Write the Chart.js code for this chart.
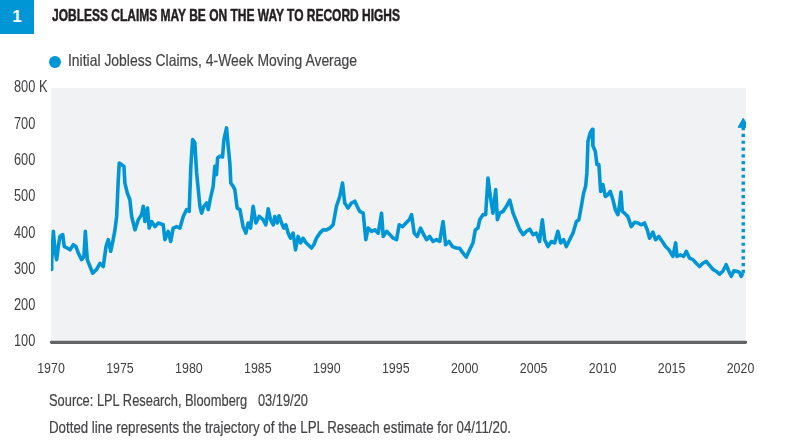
<!DOCTYPE html>
<html>
<head>
<meta charset="utf-8">
<script src="https://cdn.jsdelivr.net/npm/chart.js@4.4.1/dist/chart.umd.min.js"></script>
<style>
  html, body { margin: 0; padding: 0; background: #fff; }
  #wrap { position: relative; width: 788px; height: 448px; overflow: hidden;
    font-family: "Liberation Sans", Arial, sans-serif; }
  #c { position: absolute; left: 0; top: 0; }
  .abs { position: absolute; white-space: nowrap; }
  .sq { transform-origin: 0 50%; }
  #num { left: 0; top: 0; width: 34px; height: 34px; background: #0096d6; color: #fff;
    font-weight: bold; font-size: 17px; line-height: 34px; text-align: center; }
  #title { left: 52px; top: 6px; font-weight: bold; font-size: 16.5px; line-height: 18px; color: #231f20;
    -webkit-text-stroke: 0.5px #231f20; }
  #legdot { left: 49px; top: 56px; width: 12px; height: 12px; border-radius: 50%; background: #0096d6; }
  #legtxt { left: 68px; top: 51px; font-size: 16.5px; line-height: 18px; color: #454547; -webkit-text-stroke: 0.2px #454547; }
  #src { left: 49px; top: 391px; font-size: 16.5px; line-height: 18px; color: #454547; -webkit-text-stroke: 0.2px #454547; }
  #note { left: 49px; top: 418px; font-size: 16.5px; line-height: 18px; color: #454547; -webkit-text-stroke: 0.2px #454547; }
  #rule { position: absolute; height: 3px; background: #636466; display: none; }
</style>
</head>
<body>
<div id="wrap">
  <canvas id="c" width="788" height="448"></canvas>
  <div class="abs" id="num">1</div>
  <div class="abs sq" id="title" data-w="348">JOBLESS CLAIMS MAY BE ON THE WAY TO RECORD HIGHS</div>
  <div class="abs" id="legdot"></div>
  <div class="abs sq" id="legtxt" data-w="289">Initial Jobless Claims, 4-Week Moving Average</div>
  <div class="abs sq" id="src" data-w="259">Source: LPL Research, Bloomberg&nbsp;&nbsp;&nbsp;03/19/20</div>
  <div class="abs sq" id="note" data-w="462">Dotted line represents the trajectory of the LPL Reseach estimate for 04/11/20.</div>
  <div id="rule"></div>
</div>
<script>
// Time (decimal years) and 4-week moving average of initial jobless claims (thousands)
const years = [
  1970.00,1970.05,1970.17,1970.29,1970.41,1970.53,1970.65,1970.85,1970.96,1971.14,
  1971.38,1971.62,1971.81,1971.98,1972.22,1972.39,1972.49,1972.63,1972.83,1973.02,
  1973.31,1973.55,1973.79,1973.99,1974.15,1974.33,1974.51,1974.64,1974.76,1974.88,
  1974.95,1975.12,1975.29,1975.36,1975.53,1975.72,1975.85,1976.09,1976.33,1976.57,
  1976.69,1976.81,1977.00,1977.12,1977.29,1977.54,1977.78,1978.14,1978.26,1978.50,
  1978.68,1978.86,1979.11,1979.35,1979.59,1979.83,1980.02,1980.14,1980.27,1980.43,
  1980.56,1980.80,1980.92,1981.09,1981.28,1981.40,1981.57,1981.76,1981.88,1982.00,
  1982.08,1982.25,1982.44,1982.54,1982.73,1982.85,1982.97,1983.04,1983.21,1983.33,
  1983.50,1983.70,1983.93,1984.13,1984.30,1984.47,1984.66,1984.86,1985.10,1985.38,
  1985.58,1985.75,1985.92,1986.11,1986.23,1986.40,1986.54,1986.72,1986.88,1987.03,
  1987.20,1987.37,1987.56,1987.73,1987.92,1988.10,1988.28,1988.48,1988.65,1988.89,
  1989.06,1989.25,1989.49,1989.73,1989.98,1990.22,1990.46,1990.70,1990.94,1991.14,
  1991.30,1991.54,1991.79,1992.03,1992.20,1992.39,1992.64,1992.83,1993.00,1993.25,
  1993.49,1993.73,1993.97,1994.09,1994.34,1994.58,1994.82,1995.06,1995.25,1995.50,
  1995.74,1995.98,1996.15,1996.34,1996.56,1996.80,1997.03,1997.23,1997.46,1997.71,
  1997.95,1998.19,1998.43,1998.62,1998.86,1999.11,1999.40,1999.64,1999.88,2000.12,
  2000.36,2000.60,2000.77,2000.96,2001.09,2001.33,2001.52,2001.69,2001.86,2002.05,
  2002.25,2002.37,2002.54,2002.78,2003.03,2003.27,2003.51,2003.75,2004.00,2004.24,
  2004.48,2004.72,2004.96,2005.20,2005.43,2005.63,2005.80,2006.04,2006.28,2006.52,
  2006.76,2006.96,2007.17,2007.37,2007.61,2007.85,2008.10,2008.28,2008.46,2008.62,
  2008.77,2008.86,2008.94,2009.10,2009.25,2009.30,2009.47,2009.59,2009.73,2009.86,
  2010.02,2010.20,2010.38,2010.56,2010.75,2010.92,2011.11,2011.23,2011.33,2011.43,
  2011.59,2011.83,2012.08,2012.32,2012.56,2012.80,2013.04,2013.24,2013.41,2013.65,
  2013.84,2014.08,2014.33,2014.57,2014.81,2015.10,2015.30,2015.39,2015.64,2015.88,
  2016.07,2016.31,2016.55,2016.79,2017.03,2017.27,2017.52,2017.76,2018.00,2018.24,
  2018.48,2018.72,2018.96,2019.15,2019.33,2019.52,2019.73,2019.93,2020.05,2020.17
];
const claims = [
  300,322,405,354,327,363,391,396,363,360,
  354,368,363,345,327,336,405,327,308,290,
  300,317,308,363,382,350,382,409,446,548,
  593,589,584,538,511,492,446,409,437,451,
  474,432,469,414,432,418,428,423,382,405,
  377,414,418,414,446,465,460,584,658,649,
  566,474,455,474,483,465,497,529,584,561,
  607,612,610,658,690,640,593,538,529,520,
  469,465,418,400,428,414,474,428,446,437,
  423,467,437,423,446,428,448,428,414,423,
  400,386,400,354,391,373,386,374,368,359,
  368,386,400,409,409,414,423,474,501,538,
  483,469,483,488,474,460,455,382,414,405,
  409,400,455,391,405,396,386,382,423,418,
  428,437,451,400,391,414,396,382,391,377,
  382,377,432,368,377,363,359,358,345,334,
  354,373,409,414,437,451,451,552,501,455,
  520,437,455,460,474,491,455,432,409,396,
  405,411,396,400,377,437,382,363,377,373,
  405,373,382,363,382,400,432,437,474,510,
  529,566,653,676,686,640,626,589,589,515,
  534,501,506,515,492,465,451,478,513,460,
  455,446,418,430,428,423,428,409,386,403,
  382,391,377,363,354,336,373,336,340,336,
  350,331,327,317,308,317,322,311,300,295,
  287,295,313,295,281,296,295,292,281,290
];
// LPL Research estimate trajectory for 04/11/20
const estimateYears = [2020.20, 2020.20];
const estimateClaims = [290, 700];
// Axis ticks
const xTickYears = [1970, 1975, 1980, 1985, 1990, 1995, 2000, 2005, 2010, 2015, 2020];
const yTickValues = [100, 200, 300, 400, 500, 600, 700, 800];

const BLUE = '#0096d6';
const FONT = '"Liberation Sans", Arial, sans-serif';
const CONDENSE = 0.8;

// condense the HTML texts horizontally to the reference widths
document.querySelectorAll('[data-w]').forEach(el => {
  const natural = el.getBoundingClientRect().width;
  el.style.transform = 'scaleX(' + (parseFloat(el.dataset.w) / natural) + ')';
});

function placeRule(a) {
  const r = document.getElementById('rule');
  r.style.left = a.left + 'px';
  r.style.top = (a.bottom - 1.5) + 'px';
  r.style.width = (a.right - a.left) + 'px';
  r.style.display = 'block';
}

const bgPlugin = {
  id: 'plotBg',
  beforeDraw(chart) {
    const { ctx, chartArea: a } = chart;
    ctx.save();
    ctx.fillStyle = '#f1f2f4';
    ctx.fillRect(a.left, a.top, a.right - a.left, a.bottom - a.top);
    ctx.restore();
    placeRule(a);
    // condensed tick text (narrow face emulation)
    if (!ctx.__origFillText) {
      ctx.__origFillText = ctx.fillText;
      ctx.fillText = function (t, x, y) {
        this.save();
        this.translate(x, y);
        this.scale(CONDENSE, 1);
        this.__origFillText(t, 0, 0);
        this.restore();
      };
    }
  },
  afterDraw(chart) {
    const { ctx, chartArea: a } = chart;
    ctx.save();
    ctx.setLineDash([]);
    ctx.strokeStyle = '#636466';
    ctx.lineWidth = 2.5;
    ctx.beginPath();
    ctx.moveTo(a.left, a.bottom);
    ctx.lineTo(a.right, a.bottom);
    ctx.stroke();
    ctx.restore();
  }
};

new Chart(document.getElementById('c'), {
  type: 'line',
  data: {
    datasets: [
      {
        label: 'Initial Jobless Claims, 4-Week Moving Average',
        data: years.map((y, i) => ({ x: y, y: claims[i] })),
        borderColor: BLUE,
        borderWidth: 3.6,
        pointRadius: 0,
        tension: 0,
        borderJoinStyle: 'round'
      },
      {
        label: 'Estimate',
        data: estimateYears.map((y, i) => ({ x: y, y: estimateClaims[i] })),
        borderColor: BLUE,
        backgroundColor: BLUE,
        borderWidth: 3.4,
        borderDash: [3.2, 3.6],
        pointRadius: [0, 6],
        pointStyle: 'triangle',
        pointBorderWidth: 1,
        pointBorderColor: BLUE,
        tension: 0
      }
    ]
  },
  options: {
    responsive: false,
    animation: false,
    layout: { padding: { left: 14, right: 42, top: 88, bottom: 0 } },
    plugins: { legend: { display: false }, title: { display: false }, tooltip: { enabled: false } },
    scales: {
      x: {
        type: 'linear',
        min: 1970,
        max: 2020.4,
        grid: { display: false, drawTicks: false },
        border: { display: true, color: '#636466', width: 2.5 },
        afterBuildTicks(scale) { scale.ticks = xTickYears.map(v => ({ value: v })); },
        afterFit(scale) { scale.height = 106; },
        ticks: {
          autoSkip: false,
          maxRotation: 0,
          padding: 17,
          color: '#3f3f41',
          font: { family: FONT, size: 15.5 },
          callback: v => String(v)
        }
      },
      y: {
        min: 100,
        max: 800,
        grid: { display: false, drawTicks: false },
        border: { display: false },
        afterBuildTicks(scale) { scale.ticks = yTickValues.map(v => ({ value: v })); },
        afterFit(scale) { scale.width = 37; },
        ticks: {
          crossAlign: 'far',
          padding: 0,
          color: '#3f3f41',
          font: { family: FONT, size: 16 },
          callback: v => (v === 800 ? '800 K' : String(v))
        }
      }
    }
  },
  plugins: [bgPlugin]
});
</script>
</body>
</html>
